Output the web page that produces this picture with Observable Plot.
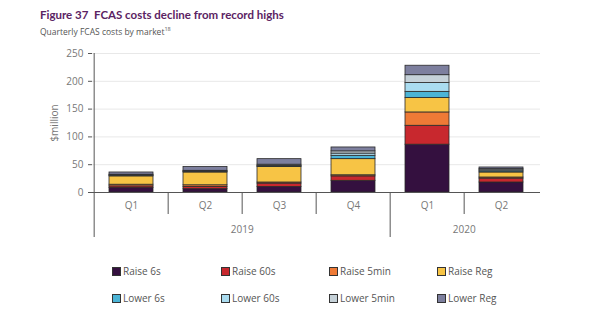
<!DOCTYPE html>
<html>
<head>
<meta charset="utf-8">
<script src="https://cdn.jsdelivr.net/npm/d3@7"></script>
<script src="https://cdn.jsdelivr.net/npm/@observablehq/plot@0.6"></script>
<style>
  html, body { margin: 0; padding: 0; background: #fff; }
  body { width: 600px; height: 324px; position: relative; overflow: hidden; font-family: "Open Sans", "Noto Sans", sans-serif; }
  #title { position: absolute; left: 40px; top: 8px; font-family: Lato, sans-serif; font-weight: bold; font-size: 11.5px; color: #5b2363; white-space: pre; }
  #subtitle { position: absolute; left: 40px; top: 25px; font-size: 8.5px; color: #555; }
  #subtitle sup { font-size: 5.5px; }
  #chart { position: absolute; left: 0; top: 40px; }
  #legend { position: absolute; left: 0; top: 0; width: 600px; }
  .item { position: absolute; font-size: 10px; color: #555; display: flex; align-items: center; white-space: nowrap; }
  .sw { width: 7px; height: 7px; border: 1px solid #333; margin-right: 2px; }
</style>
</head>
<body>
<div id="title">Figure 37  FCAS costs decline from record highs</div>
<div id="subtitle">Quarterly FCAS costs by market<sup>18</sup></div>
<div id="chart"></div>
<div id="legend"></div>
<script>
// Periods
const quarters = ["Q1", "Q2", "Q3", "Q4", "Q1", "Q2"];
const years = ["2019", "2019", "2019", "2019", "2020", "2020"];
const yTicks = [0, 50, 100, 150, 200, 250];

// Series (bottom to top)
const seriesNames = ["Raise 6s", "Raise 60s", "Raise 5min", "Raise Reg", "Lower 6s", "Lower 60s", "Lower 5min", "Lower Reg"];
const seriesColors = ["#34103f", "#c8282e", "#ee7a36", "#f7c445", "#4bb4d6", "#aadcf0", "#c5d1d8", "#7d7f9e"];

// Values ($million) per series, per period
const raise6s   = [8, 6, 10, 21, 86, 18];
const raise60s  = [3, 4, 6, 8, 34, 7];
const raise5min = [3, 3, 2, 2, 24, 2];
const raiseReg  = [15, 23, 28, 29, 26, 9];
const lower6s   = [1, 1, 1, 6, 11, 2];
const lower60s  = [1, 1, 1, 4, 16, 2];
const lower5min = [1, 1, 2, 4, 14, 2];
const lowerReg  = [4, 7, 10, 7, 17, 3];

const seriesValues = [raise6s, raise60s, raise5min, raiseReg, lower6s, lower60s, lower5min, lowerReg];
const keys = quarters.map((q, i) => `${years[i]} ${q}`);

const data = [];
seriesNames.forEach((s, si) => {
  keys.forEach((k, i) => data.push({period: k, series: s, value: seriesValues[si][i]}));
});

const W = 600, H = 205;
const mL = 92, mR = 60, mT = 13, mB = 53;
const plotH = H - mT - mB;
const step = (W - mL - mR) / keys.length;
const half = step / 2;

const isFirst = (i) => i === 0 || years[i] !== years[i - 1];
const firstOfYear = keys.filter((k, i) => isFirst(i));
const otherKeys = keys.filter((k, i) => !isFirst(i));
const yearNames = [...new Set(years)];
// each year has an even number of quarters: its label sits on the left edge of its middle band
const yearLabelData = yearNames.map(y => {
  const idx = keys.map((k, i) => i).filter(i => years[i] === y);
  return {year: y, key: keys[idx[0] + Math.floor(idx.length / 2)]};
});

const lineColor = "#555";

const chart = Plot.plot({
  width: W, height: H,
  marginLeft: mL, marginRight: mR, marginTop: mT, marginBottom: mB,
  style: {fontFamily: "'Open Sans', 'Noto Sans', sans-serif", fontSize: "10px", color: "#555", background: "transparent"},
  x: {domain: keys, paddingInner: 0.4, paddingOuter: 0.2, axis: null},
  y: {domain: [0, 250], axis: null},
  color: {domain: seriesNames, range: seriesColors},
  marks: [
    Plot.gridY(yTicks.filter(d => d > 0), {stroke: "#e8e8e8", strokeOpacity: 1}),
    Plot.axisY(yTicks, {tickSize: 4, tickPadding: 5, label: null, stroke: lineColor, fill: "#777", fontSize: 10}),
    Plot.text(["$million"], {frameAnchor: "left", textAnchor: "middle", rotate: -90, dx: -38, fill: "#777", fontSize: 10}),
    Plot.barY(data, Plot.stackY({
      x: "period", y: "value", fill: "series", order: seriesNames,
      stroke: "#2a2a2a", strokeWidth: 0.8
    })),
    Plot.ruleY([0], {stroke: lineColor, strokeWidth: 1, insetLeft: -4}),
    // axis line / year separators
    Plot.ruleX([keys[0]], {x: d => d, dx: -half, stroke: lineColor, insetBottom: -45}),
    Plot.ruleX(firstOfYear.slice(1), {x: d => d, dx: -half, stroke: lineColor, insetTop: plotH, insetBottom: -45}),
    // quarter separators
    Plot.ruleX(otherKeys, {x: d => d, dx: -half, stroke: lineColor, insetTop: plotH, insetBottom: -22}),
    // quarter labels
    Plot.text(keys, {x: d => d, y: 0, text: (d, i) => quarters[i], dy: 13, fill: "#777", fontSize: 10}),
    // year labels
    Plot.text(yearLabelData, {x: "key", y: 0, text: "year", dx: -half, dy: 37, fill: "#777", fontSize: 10})
  ]
});
document.getElementById("chart").appendChild(chart);

// Legend
const legend = document.getElementById("legend");
const colX = [112, 221, 329, 437];
const rowY = [264, 291];
seriesNames.forEach((s, i) => {
  const el = document.createElement("div");
  el.className = "item";
  el.style.left = colX[i % 4] + "px";
  el.style.top = rowY[Math.floor(i / 4)] + "px";
  el.innerHTML = `<span class="sw" style="background:${seriesColors[i]}"></span><span>${s}</span>`;
  legend.appendChild(el);
});
</script>
</body>
</html>
